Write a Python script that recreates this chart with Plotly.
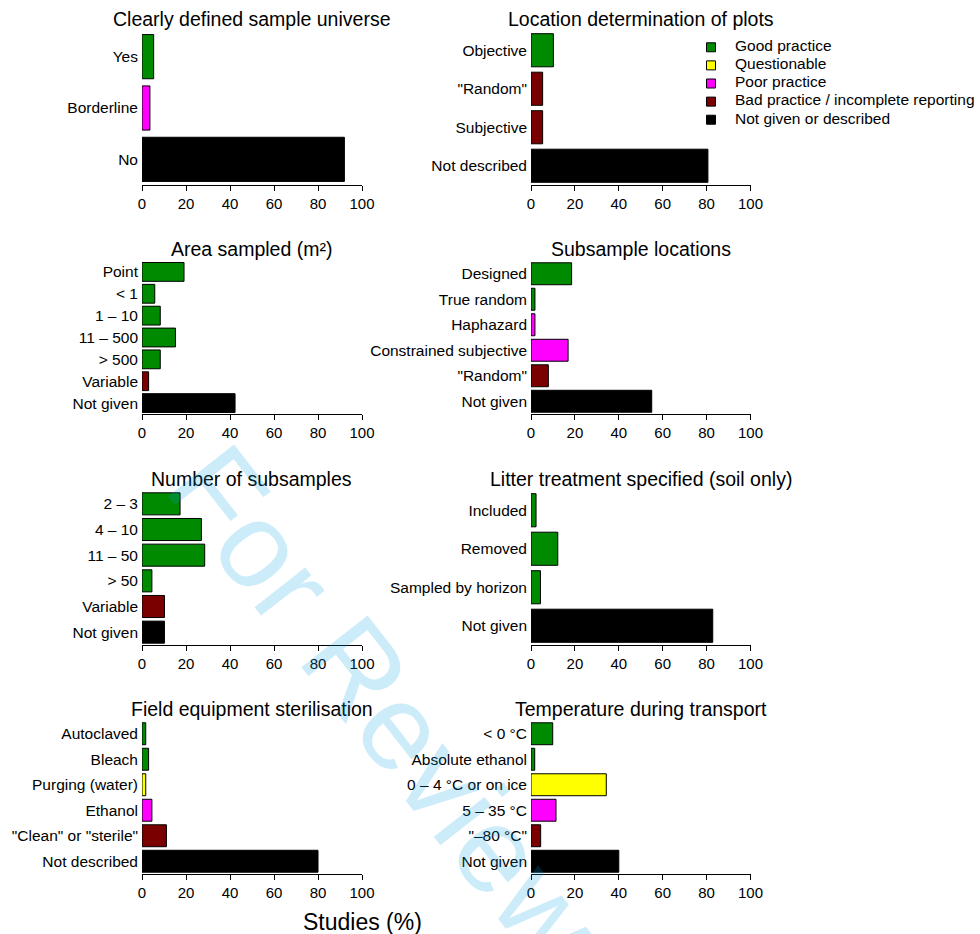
import plotly.graph_objects as go

# ---------------- data ----------------
titles = [
    "Clearly defined sample universe",
    "Location determination of plots",
    "Area sampled (m²)",
    "Subsample locations",
    "Number of subsamples",
    "Litter treatment specified (soil only)",
    "Field equipment sterilisation",
    "Temperature during transport",
]

cats_universe = ["Yes", "Borderline", "No"]
vals_universe = [5.3, 3.6, 92.0]
qual_universe = ["good", "poor", "none"]

cats_location = ["Objective", "\"Random\"", "Subjective", "Not described"]
vals_location = [10.2, 5.3, 5.3, 80.6]
qual_location = ["good", "bad", "bad", "none"]

cats_area = ["Point", "< 1", "1 – 10", "11 – 500", "> 500", "Variable", "Not given"]
vals_area = [19.1, 5.8, 8.3, 15.2, 8.3, 3.0, 42.3]
qual_area = ["good", "good", "good", "good", "good", "bad", "none"]

cats_subloc = ["Designed", "True random", "Haphazard", "Constrained subjective", "\"Random\"", "Not given"]
vals_subloc = [18.5, 1.8, 1.8, 16.9, 7.9, 55.0]
qual_subloc = ["good", "good", "poor", "poor", "bad", "none"]

cats_nsub = ["2 – 3", "4 – 10", "11 – 50", "> 50", "Variable", "Not given"]
vals_nsub = [17.3, 27.0, 28.5, 4.5, 10.2, 10.2]
qual_nsub = ["good", "good", "good", "good", "bad", "none"]

cats_litter = ["Included", "Removed", "Sampled by horizon", "Not given"]
vals_litter = [2.3, 12.2, 4.3, 82.8]
qual_litter = ["good", "good", "good", "none"]

cats_steril = ["Autoclaved", "Bleach", "Purging (water)", "Ethanol", "\"Clean\" or \"sterile\"", "Not described"]
vals_steril = [1.7, 3.0, 1.7, 4.5, 11.1, 80.0]
qual_steril = ["good", "good", "questionable", "poor", "bad", "none"]

cats_temp = ["< 0 °C", "Absolute ethanol", "0 – 4 °C or on ice", "5 – 35 °C", "\"–80 °C\"", "Not given"]
vals_temp = [9.9, 1.7, 34.3, 11.4, 4.4, 40.0]
qual_temp = ["good", "good", "questionable", "poor", "bad", "none"]

legend_keys = ["good", "questionable", "poor", "bad", "none"]
legend_labels = ["Good practice", "Questionable", "Poor practice",
                 "Bad practice / incomplete reporting", "Not given or described"]

x_ticks = [0, 20, 40, 60, 80, 100]
x_label = "Studies (%)"
watermark = "For Review"

# ---------------- styling ----------------
colors = {
    "good": "#008a00",
    "questionable": "#ffff00",
    "poor": "#ff00ff",
    "bad": "#7a0000",
    "none": "#000000",
}
FONT = "Liberation Sans, Arial, Helvetica, sans-serif"
W, H = 980, 934

panels = [
    (cats_universe, vals_universe, qual_universe),
    (cats_location, vals_location, qual_location),
    (cats_area, vals_area, qual_area),
    (cats_subloc, vals_subloc, qual_subloc),
    (cats_nsub, vals_nsub, qual_nsub),
    (cats_litter, vals_litter, qual_litter),
    (cats_steril, vals_steril, qual_steril),
    (cats_temp, vals_temp, qual_temp),
]

# pixel layout (left/right columns, 4 rows)
col_px = [(142, 362), (531, 750.5)]
row_px = [(31, 185), (261, 414), (491, 645), (721, 874)]
title_px = [19, 249, 479, 709]

fig = go.Figure()
layout = dict(
    width=W, height=H, autosize=False,
    margin=dict(l=0, r=0, t=0, b=0, pad=0, autoexpand=False),
    paper_bgcolor="white", plot_bgcolor="white",
    font=dict(family=FONT, size=15, color="black"),
    bargap=0.14,
    showlegend=False,
    annotations=[],
)

for i, (cats, vals, qual) in enumerate(panels):
    r, c = divmod(i, 2)
    n = i + 1
    xa = "x" if n == 1 else f"x{n}"
    ya = "y" if n == 1 else f"y{n}"
    fig.add_trace(go.Bar(
        x=vals, y=cats, orientation="h",
        marker=dict(color=[colors[q] for q in qual], line=dict(color="black", width=1)),
        xaxis=xa, yaxis=ya, showlegend=False, hoverinfo="x+y",
    ))
    x0, x1 = col_px[c]
    y0, y1 = row_px[r]
    layout[f"xaxis{'' if n == 1 else n}"] = dict(
        domain=[x0 / W, x1 / W], anchor=ya, range=[0, 100], automargin=False,
        tickvals=x_ticks, ticks="outside", ticklen=5, tickwidth=1, tickcolor="black",
        showline=True, linecolor="black", linewidth=1.3,
        showgrid=False, zeroline=False, tickfont=dict(size=15),
        fixedrange=True,
    )
    layout[f"yaxis{'' if n == 1 else n}"] = dict(
        domain=[1 - y1 / H, 1 - y0 / H], anchor=xa, automargin=False,
        type="category", categoryorder="array", categoryarray=cats,
        autorange="reversed", showline=False, showgrid=False, zeroline=False,
        ticks="", ticklabelstandoff=3, tickfont=dict(size=15.5),
        fixedrange=True,
    )
    layout["annotations"].append(dict(
        text=titles[i], x=(x0 + x1) / 2 / W, y=1 - title_px[r] / H,
        xref="paper", yref="paper", xanchor="center", yanchor="middle",
        showarrow=False, font=dict(size=19.5, family=FONT),
    ))

# legend drawn on its own hidden axis pair (x9/y9), one row per class
leg_x0, leg_x1 = 700, 980
leg_y0, leg_y1 = 37, 130
fig.add_trace(go.Scatter(
    x=[0] * len(legend_keys), y=legend_labels, mode="markers",
    marker=dict(symbol="square", size=9, color=[colors[k] for k in legend_keys],
                line=dict(color="black", width=1)),
    xaxis="x9", yaxis="y9", showlegend=False, hoverinfo="skip",
))
fig.add_trace(go.Scatter(
    x=[24] * len(legend_keys), y=legend_labels, mode="text", text=legend_labels,
    textposition="middle right", textfont=dict(size=15.5, family=FONT, color="black"),
    xaxis="x9", yaxis="y9", showlegend=False, hoverinfo="skip",
))
layout["xaxis9"] = dict(domain=[leg_x0 / W, leg_x1 / W], anchor="y9", automargin=False,
                        range=[-11, leg_x1 - leg_x0 - 11], visible=False, fixedrange=True)
layout["yaxis9"] = dict(domain=[1 - leg_y1 / H, 1 - leg_y0 / H], anchor="x9", automargin=False,
                        type="category", categoryorder="array", categoryarray=legend_labels,
                        autorange="reversed", visible=False, fixedrange=True)

layout["annotations"].append(dict(
    text=x_label, x=362 / W, y=1 - 922 / H, xref="paper", yref="paper",
    xanchor="center", yanchor="middle", showarrow=False, font=dict(size=23, family=FONT),
))
layout["annotations"].append(dict(
    text=watermark, x=385 / W, y=1 - 706 / H, xref="paper", yref="paper",
    xanchor="center", yanchor="middle", showarrow=False, textangle=52,
    font=dict(size=122, family=FONT, color="rgba(0,160,230,0.2)"),
))

fig.update_layout(**layout)
fig.write_html(
    "out.html",
    post_script="document.body.style.margin='0';document.body.style.overflow='hidden';",
    config={"displayModeBar": False},
)
